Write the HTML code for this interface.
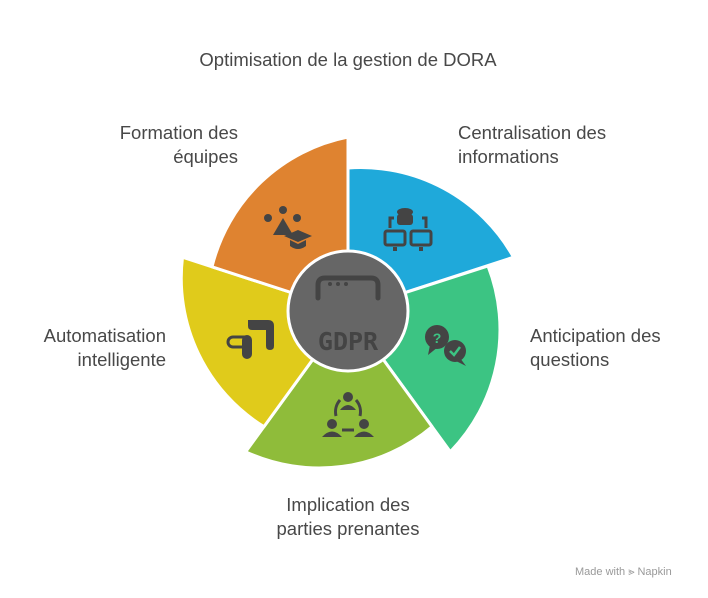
<!DOCTYPE html>
<html><head><meta charset="utf-8"><style>
body{margin:0;width:708px;height:598px;background:#fff;overflow:hidden;font-family:"Liberation Sans",sans-serif}
svg{position:absolute;left:0;top:0}
</style></head><body>
<svg width="708" height="598" viewBox="0 0 708 598">
<g font-family="Liberation Sans, sans-serif" font-size="18.5" fill="#484848">
<text x="348" y="66" text-anchor="middle">Optimisation de la gestion de DORA</text>
<text x="238" y="139" text-anchor="end">Formation des</text>
<text x="238" y="163" text-anchor="end">équipes</text>
<text x="458" y="139">Centralisation des</text>
<text x="458" y="163">informations</text>
<text x="530" y="342">Anticipation des</text>
<text x="530" y="366">questions</text>
<text x="166" y="342" text-anchor="end">Automatisation</text>
<text x="166" y="366" text-anchor="end">intelligente</text>
<text x="348" y="511" text-anchor="middle">Implication des</text>
<text x="348" y="535" text-anchor="middle">parties prenantes</text>
</g>
<g stroke="#fff" stroke-width="3" stroke-linejoin="round">
<path d="M348 311 L348 168 A175 175 0 0 1 513.5 257.2 Z" fill="#1FA9DA"/>
<path d="M348 311 L488 266 A175 175 0 0 1 450.3 451.8 Z" fill="#3CC483"/>
<path d="M348 311 L432.1 426.7 A175 175 0 0 1 245.7 451.8 Z" fill="#8FBC3A"/>
<path d="M348 311 L263.9 426.7 A175 175 0 0 1 182.5 257.2 Z" fill="#E0CB1B"/>
<path d="M348 311 L212 266.8 A175 175 0 0 1 348 137 Z" fill="#DF8330"/>
<circle cx="348" cy="311" r="60" fill="#666"/>
</g>
<g fill="#444">
<path d="M318 298 V285 Q318 278 325 278 H371 Q378 278 378 285 V298" fill="none" stroke="#444" stroke-width="5" stroke-linecap="round"/>
<circle cx="330" cy="284" r="2"/><circle cx="338" cy="284" r="2"/><circle cx="346" cy="284" r="2"/>
<text x="348" y="350" text-anchor="middle" font-family="DejaVu Sans Mono, monospace" font-weight="bold" font-size="25">GDPR</text>
<ellipse cx="405" cy="212" rx="8" ry="4"/><rect x="397" y="214" width="16" height="11" rx="3"/>
<rect x="385" y="231" width="20" height="14" rx="2" fill="none" stroke="#444" stroke-width="3"/>
<rect x="411" y="231" width="20" height="14" rx="2" fill="none" stroke="#444" stroke-width="3"/>
<rect x="393" y="247" width="4" height="4"/><rect x="419" y="247" width="4" height="4"/>
<path d="M390 228 V218 H394 M426 228 V218 H422" fill="none" stroke="#444" stroke-width="3"/>
<circle cx="437" cy="337" r="12"/><path d="M430 345 L428 355 L438 347Z"/>
<circle cx="455" cy="351" r="11"/><path d="M460 358 L466 366 L454 360Z"/>
<text x="437" y="343" text-anchor="middle" fill="#3CC483" font-size="14" font-weight="bold">?</text>
<path d="M450 351 L454 355 L460 347" fill="none" stroke="#3CC483" stroke-width="2.5"/>
<circle cx="348" cy="397" r="5"/><path d="M340 410 Q348 400 356 410Z"/>
<circle cx="332" cy="424" r="5"/><path d="M322 437 Q332 426 342 437Z"/>
<circle cx="364" cy="424" r="5"/><path d="M354 437 Q364 426 374 437Z"/>
<path d="M336 416 A18 18 0 0 1 340 400 M356 400 A18 18 0 0 1 360 416 M342 430 H354" fill="none" stroke="#444" stroke-width="3"/>
<path d="M248 320 H268 Q274 320 274 326 V346 Q274 350 270 350 Q266 350 266 346 V330 H252 Q248 330 248 326Z"/>
<rect x="228" y="337" width="22" height="10" rx="5" fill="none" stroke="#444" stroke-width="3"/>
<rect x="242" y="335" width="10" height="24" rx="5"/>
<circle cx="283" cy="210" r="4"/><circle cx="268" cy="218" r="4"/><circle cx="297" cy="218" r="4"/>
<path d="M283 218 L273 235 H293Z"/>
<path d="M284 236 L298 230 L312 236 L298 242Z"/>
<path d="M290 240 V246 Q298 252 306 246 V240 L298 244Z"/>
</g>
<text x="575" y="575" font-size="11" fill="#999" font-family="Liberation Sans, sans-serif">Made with ⪢ Napkin</text>
</svg>
</body></html>
